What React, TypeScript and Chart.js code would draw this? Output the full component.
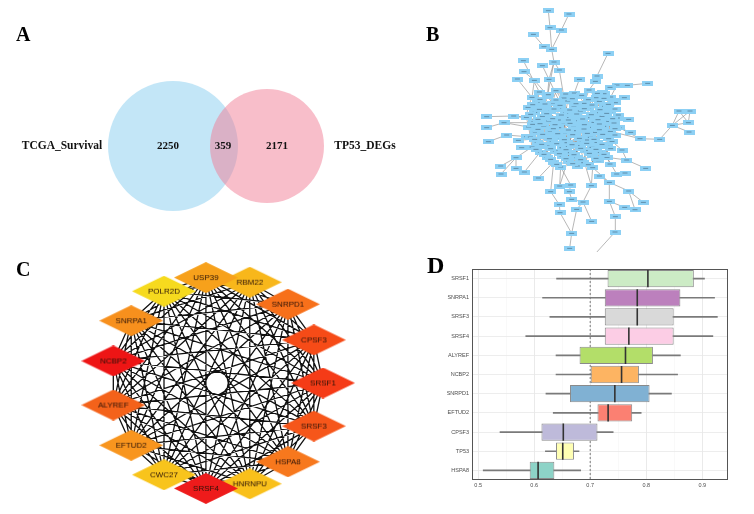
import React, { useEffect, useRef } from "react";
import { Chart, registerables } from "chart.js";
Chart.register(...registerables);

const FONT_SANS = '"Liberation Sans", Arial, sans-serif';
const FONT_SERIF = '"Liberation Serif", "Times New Roman", serif';

// ---------------- Panel A : Venn ----------------
const vennSetNames = ["TCGA_Survival", "TP53_DEGs"];
const vennCounts = [2250, 359, 2171]; // only left, overlap, only right

// ---------------- Panel B : PPI network (layout units) ----------------
const ppiPeripheral: [number, number][] = [
  [445, 32], [507, 42], [450, 83], [484, 90], [400, 103], [432, 140], [455, 148], [462, 186], [478, 210], [370, 182],
  [427, 197], [372, 215], [352, 237], [403, 241], [447, 238], [538, 238], [624, 160], [591, 228], [586, 244], [651, 255],
  [682, 256], [743, 250], [608, 277], [673, 293], [837, 333], [870, 333], [865, 368], [817, 376], [867, 396], [720, 416],
  [779, 418], [686, 358], [692, 397], [645, 405], [680, 480], [737, 505], [650, 522], [628, 547], [686, 573], [705, 629],
  [730, 607], [674, 622], [628, 604], [646, 650], [645, 696], [575, 664], [515, 700], [509, 745], [530, 628], [549, 606],
  [478, 614], [480, 638], [452, 575], [508, 575], [479, 558], [512, 555], [574, 557], [515, 598], [260, 350], [260, 383],
  [265, 425], [320, 405], [312, 368], [341, 348], [302, 498], [303, 522], [348, 473], [348, 505], [373, 516], [415, 534],
  [365, 443], [355, 421], [380, 410], [630, 262], [640, 302], [655, 345], [666, 450], [630, 492], [675, 519], [598, 528],
  [578, 770],
];
const ppiCore: [number, number][] = [
  [418, 276], [468, 272], [523, 279], [567, 270], [612, 281], [396, 292], [442, 289], [492, 294], [538, 288], [588, 293],
  [632, 291], [412, 306], [457, 309], [503, 303], [552, 310], [598, 304], [646, 308], [384, 322], [431, 319], [476, 324],
  [522, 318], [566, 323], [614, 319], [404, 337], [452, 334], [497, 339], [541, 333], [586, 338], [632, 335], [379, 352],
  [427, 349], [471, 354], [516, 348], [561, 353], [606, 349], [652, 354], [401, 366], [446, 363], [492, 368], [536, 362],
  [582, 367], [626, 364], [386, 381], [431, 378], [476, 383], [521, 377], [566, 382], [611, 379], [657, 383], [406, 396],
  [451, 393], [496, 398], [541, 392], [586, 397], [631, 394], [391, 411], [436, 408], [481, 413], [526, 407], [571, 412],
  [616, 409], [411, 426], [456, 423], [501, 428], [546, 422], [591, 427], [636, 424], [396, 441], [441, 438], [486, 443],
  [531, 437], [576, 442], [621, 439], [421, 456], [466, 453], [511, 458], [556, 452], [601, 457], [441, 471], [486, 468],
  [531, 473], [576, 467], [621, 472], [461, 486], [506, 483], [551, 488], [596, 482], [482, 501], [532, 498], [578, 503],
  [498, 353], [545, 375], [520, 392], [470, 405], [560, 420], [505, 440], [475, 360], [590, 385],
];
const ppiCoreFill: [number, number][] = [
  [445, 284], [497, 282], [545, 286], [592, 280],
  [420, 298], [468, 300], [517, 296], [565, 299], [612, 295],
  [398, 314], [435, 312], [480, 316], [528, 311], [576, 315], [625, 313],
  [418, 328], [462, 327], [509, 330], [553, 326], [600, 329], [645, 327],
  [392, 343], [440, 341], [484, 345], [530, 342], [574, 344], [620, 340],
  [414, 358], [458, 356], [505, 360], [548, 357], [594, 359], [638, 356],
  [398, 373], [420, 371], [465, 374], [510, 370], [553, 374], [598, 372], [642, 369],
  [414, 388], [460, 386], [505, 390], [552, 387], [598, 389], [645, 386],
  [428, 403], [473, 401], [518, 404], [562, 400], [608, 403],
  [404, 418], [448, 416], [493, 419], [538, 415], [582, 418], [626, 416],
  [425, 433], [470, 431], [516, 434], [560, 430], [606, 433],
  [408, 448], [452, 446], [498, 449], [542, 445], [588, 448], [632, 446],
  [432, 463], [478, 461], [522, 464], [568, 460], [612, 463],
  [452, 478], [498, 476], [542, 479], [588, 475],
  [470, 493], [518, 491], [565, 494],
];
const ppiEdges: string[] = [
  "p0-p2", "p2-p6", "p1-p3", "p3-p6", "p4-p5", "p5-p6", "p6-p7", "p7-p8", "p7-p14", "p7-c6", "p8-c7", "p9-c0",
  "p10-p14", "p11-p13", "p12-c5", "p13-c5", "p14-c6", "p15-c2", "p16-p17", "p17-p18", "p18-c3", "p19-c10", "p20-p19",
  "p21-p20", "p22-c4", "p22-c9", "p73-p22", "p23-c16", "p74-c16", "p75-c35", "p24-p27", "p25-p27", "p26-p27", "p28-p27",
  "p24-p26", "p25-p26", "p27-p30", "p30-p29", "p29-c48", "p29-c54", "p31-c35", "p32-c48", "p33-c54", "p34-c82",
  "p76-c66", "p76-p34", "p35-p34", "p36-c82", "p78-p36", "p37-c89", "p79-p37", "p77-c82", "p38-p37", "p39-p38",
  "p40-p38", "p41-p42", "p42-p37", "p43-p42", "p44-p43", "p80-p44", "p46-p47", "p46-p51", "p46-p48", "p45-p49",
  "p48-p49", "p50-p51", "p50-p52", "p52-p54", "p53-p55", "p53-p57", "p57-p49", "p49-p56", "p52-c83", "p54-c87",
  "p55-c87", "p56-c89", "p58-p63", "p63-c29", "p62-c42", "p59-p62", "p60-p61", "p61-c55", "p64-p66", "p65-p66",
  "p67-p66", "p66-c67", "p68-c73", "p69-c83", "p70-c67", "p71-c55", "p72-c49",
  "p13-c45", "p14-c58", "p63-c45", "p71-c58", "p62-c38", "p56-c45", "p54-c58", "p33-c45", "p31-c38",
  "c0-c6", "c0-c11", "c1-c7", "c1-c12", "c2-c8", "c2-c13", "c3-c9", "c3-c14", "c4-c10", "c4-c15", "c5-c11", "c5-c17",
  "c6-c12", "c6-c18", "c7-c13", "c7-c19", "c8-c14", "c8-c20", "c9-c15", "c9-c21", "c10-c16", "c10-c22", "c11-c23",
  "c12-c24", "c13-c25", "c14-c26", "c15-c27", "c16-c28", "c17-c29", "c18-c30", "c19-c31", "c20-c32", "c21-c33",
  "c22-c34", "c23-c36", "c24-c37", "c25-c38", "c26-c39", "c27-c40", "c28-c41", "c29-c42", "c30-c43", "c31-c44",
  "c32-c45", "c33-c46", "c34-c47", "c35-c48", "c36-c49", "c37-c50", "c38-c51", "c39-c52", "c40-c53", "c41-c54",
  "c42-c55", "c43-c56", "c44-c57", "c45-c58", "c46-c59", "c47-c60", "c49-c61", "c50-c62", "c51-c63", "c52-c64",
  "c53-c65", "c54-c66", "c55-c67", "c56-c68", "c57-c69", "c58-c70", "c59-c71", "c60-c72", "c61-c73", "c62-c74",
  "c63-c75", "c64-c76", "c65-c77", "c68-c78", "c69-c79", "c70-c80", "c71-c81", "c72-c82", "c74-c83", "c75-c84",
  "c76-c85", "c77-c86", "c79-c87", "c80-c88", "c81-c89",
  "c45-c2", "c45-c20", "c45-c30", "c45-c60", "c45-c70", "c45-c11", "c45-c80", "c45-c35", "c45-c67", "c45-c88",
  "c58-c5", "c58-c17", "c58-c29", "c58-c73", "c58-c86", "c58-c16", "c58-c4", "c58-c41",
  "c38-c0", "c38-c9", "c38-c54", "c38-c61", "c38-c75", "c38-c23", "c38-c48",
  "c52-c1", "c52-c42", "c52-c82", "c52-c66", "c52-c13", "c63-c36", "c63-c47", "c63-c78", "c63-c89",
  "c90-c97", "c91-c93", "c92-c95", "c94-c96", "c90-c44", "c91-c27", "c93-c61", "c95-c84",
  "f3-c45", "f8-c58", "f12-c38", "f17-c52", "f22-c45", "f27-c63", "f31-c58", "f36-c45", "f40-c38", "f45-c52",
  "f49-c45", "f53-c58", "f58-c63", "f62-c45", "f66-c38", "f70-c52", "f74-c45", "f78-c58", "f76-c63", "f79-c45",
  "f1-f5", "f10-f16", "f19-f25", "f28-f34", "f37-f44", "f47-f52", "f55-f60", "f63-f69", "f72-f77", "f75-f78",
];

// ---------------- Panel C : hub genes (circular layout order) ----------------
const hubGenes = ["SRSF1", "SRSF3", "HSPA8", "HNRNPU", "SRSF4", "CWC27", "EFTUD2", "ALYREF", "NCBP2", "SNRPA1", "POLR2D", "USP39", "RBM22", "SNRPD1", "CPSF3"];
const hubColors = ["#F53B17", "#F6561A", "#F7781D", "#F9C01B", "#EE1B1B", "#F8C41C", "#F8951E", "#F4621A", "#EE1515", "#F7901D", "#F6DA1E", "#F7A11B", "#F8B71B", "#F7701A", "#F64B17"];
const hubRank = [3, 5, 8, 14, 2, 13, 10, 6, 1, 9, 15, 11, 12, 7, 4];

// ---------------- Panel D : boxplot ----------------
const boxGenes = ["SRSF1", "SNRPA1", "SRSF3", "SRSF4", "ALYREF", "NCBP2", "SNRPD1", "EFTUD2", "CPSF3", "TP53", "HSPA8"];
const boxMin = [0.640, 0.615, 0.628, 0.585, 0.639, 0.639, 0.621, 0.634, 0.539, 0.620, 0.509];
const boxQ1 = [0.731, 0.726, 0.726, 0.726, 0.681, 0.701, 0.664, 0.713, 0.613, 0.639, 0.592];
const boxMed = [0.803, 0.784, 0.784, 0.769, 0.763, 0.756, 0.744, 0.732, 0.652, 0.651, 0.607];
const boxQ3 = [0.885, 0.861, 0.849, 0.849, 0.812, 0.787, 0.806, 0.775, 0.713, 0.671, 0.636];
const boxMax = [0.904, 0.922, 0.927, 0.919, 0.861, 0.856, 0.845, 0.791, 0.741, 0.680, 0.683];
const boxColors = ["#CCEBC5", "#BC80BD", "#D9D9D9", "#FCCDE5", "#B3DE69", "#FDB462", "#80B1D3", "#FB8072", "#BEBADA", "#FFFFB3", "#8DD3C7"];
const cutoffLine = 0.7;

function baseOptions(xmax: number, ymax: number): any {
  return {
    animation: false,
    responsive: false,
    events: [],
    layout: { padding: 0, autoPadding: false },
    plugins: { legend: { display: false }, tooltip: { enabled: false } },
    scales: {
      x: { type: "linear", min: 0, max: xmax, display: false },
      y: { type: "linear", min: 0, max: ymax, reverse: true, display: false },
    },
  };
}

function makeVenn(): any {
  return {
    type: "scatter",
    data: {
      datasets: [
        { data: [{ x: 267, y: 146 }], pointRadius: 57, backgroundColor: "rgba(241,126,150,0.5)", borderWidth: 0, clip: false },
        { data: [{ x: 173, y: 146 }], pointRadius: 65, backgroundColor: "rgba(135,205,240,0.5)", borderWidth: 0, clip: false },
      ],
    },
    options: baseOptions(400, 250),
    plugins: [
      {
        id: "vennText",
        afterDatasetsDraw(chart: any) {
          const { ctx, scales } = chart;
          const X = (v: number) => scales.x.getPixelForValue(v);
          const Y = (v: number) => scales.y.getPixelForValue(v);
          ctx.save();
          ctx.fillStyle = "#111";
          ctx.textAlign = "center";
          ctx.textBaseline = "middle";
          ctx.font = `bold 11.5px ${FONT_SERIF}`;
          ctx.fillText(vennSetNames[0], X(62), Y(146));
          ctx.fillText(vennSetNames[1], X(365), Y(146));
          ctx.font = `bold 11px ${FONT_SERIF}`;
          ctx.fillText(String(vennCounts[0]), X(168), Y(146));
          ctx.fillText(String(vennCounts[1]), X(223), Y(146));
          ctx.fillText(String(vennCounts[2]), X(277), Y(146));
          ctx.restore();
        },
      },
    ],
  };
}

function nodeImage(): HTMLCanvasElement {
  const c = document.createElement("canvas");
  c.width = 11;
  c.height = 5;
  const g = c.getContext("2d")!;
  g.fillStyle = "#8dd0f4";
  g.fillRect(0, 0, 11, 5);
  g.fillStyle = "rgba(40,60,80,0.45)";
  g.fillRect(3, 2, 5, 1);
  return c;
}

function makePPI(): any {
  const lookup = (id: string) => {
    const n = parseInt(id.slice(1), 10);
    const src = id[0] === "p" ? ppiPeripheral : id[0] === "c" ? ppiCore : ppiCoreFill;
    const p = src[n] || src[src.length - 1];
    return { x: p[0], y: p[1] };
  };
  const edgePts: any[] = [];
  ppiEdges.forEach((e) => {
    const [a, b] = e.split("-");
    edgePts.push(lookup(a), lookup(b), { x: null, y: null });
  });
  const nodes = ppiPeripheral.concat(ppiCore, ppiCoreFill).map((p) => ({ x: p[0], y: p[1] }));
  const img = nodeImage();
  return {
    type: "scatter",
    data: {
      datasets: [
        { type: "scatter", data: nodes, pointStyle: img, pointRadius: 2, order: 0 },
        {
          type: "line",
          data: edgePts,
          borderColor: "rgba(125,125,125,0.8)",
          borderWidth: 0.7,
          pointRadius: 0,
          spanGaps: false,
          fill: false,
          order: 1,
        },
      ],
    },
    options: baseOptions(1062, 756),
  };
}

function diamondImage(color: string, label: string): HTMLCanvasElement {
  const c = document.createElement("canvas");
  c.width = 64;
  c.height = 31;
  const g = c.getContext("2d")!;
  g.beginPath();
  g.moveTo(0, 15.5);
  g.lineTo(32, 0);
  g.lineTo(64, 15.5);
  g.lineTo(32, 31);
  g.closePath();
  g.fillStyle = color;
  g.fill();
  g.font = `8px ${FONT_SANS}`;
  g.fillStyle = "#2a1208";
  g.textAlign = "center";
  g.textBaseline = "middle";
  g.fillText(label, 32, 16);
  return c;
}

function makeHub(): any {
  const cx = 197, cy = 133, R = 106;
  const n = hubGenes.length;
  const pos = hubGenes.map((_, i) => {
    const a = (i * 2 * Math.PI) / n;
    return { x: cx + R * Math.cos(a), y: cy + R * Math.sin(a) };
  });
  const edgePts: any[] = [];
  for (let i = 0; i < n; i++)
    for (let j = i + 1; j < n; j++) edgePts.push(pos[i], pos[j], { x: null, y: null });
  const drawOrder = hubGenes.map((_, i) => i).sort((a, b) => hubRank[b] - hubRank[a]);
  const imgs = drawOrder.map((i) => diamondImage(hubColors[i], hubGenes[i]));
  return {
    type: "scatter",
    data: {
      datasets: [
        { type: "scatter", data: drawOrder.map((i) => pos[i]), pointStyle: imgs, pointRadius: 2, order: 0, clip: false },
        {
          type: "line",
          data: edgePts,
          borderColor: "#111",
          borderWidth: 1.3,
          pointRadius: 0,
          spanGaps: false,
          fill: false,
          order: 1,
        },
      ],
    },
    options: baseOptions(380, 264),
  };
}

function makeBox(): any {
  const isMajor = (v: number) => Math.abs(v * 10 - Math.round(v * 10)) < 1e-6;
  const tickFont = { size: 5.5, family: FONT_SANS };
  return {
    type: "bar",
    data: {
      labels: boxGenes,
      datasets: [
        {
          type: "scatter",
          data: boxGenes.map((g, i) => ({ x: boxMed[i], y: g })),
          pointStyle: "line",
          rotation: 90,
          pointRadius: 8.6,
          borderColor: "#333",
          borderWidth: 1.6,
          order: 0,
        },
        {
          type: "bar",
          data: boxGenes.map((_, i) => [boxQ1[i], boxQ3[i]]),
          backgroundColor: boxColors,
          borderColor: "#8a8a8a",
          borderWidth: 1,
          borderSkipped: false,
          grouped: false,
          barPercentage: 0.9,
          categoryPercentage: 1,
          order: 1,
        },
        {
          type: "bar",
          data: boxGenes.map((_, i) => [boxMin[i], boxMax[i]]),
          backgroundColor: "#7a7a7a",
          borderWidth: 0,
          barThickness: 1,
          grouped: false,
          order: 2,
        },
      ],
    },
    options: {
      animation: false,
      responsive: false,
      events: [],
      indexAxis: "y",
      layout: { padding: { top: 19, right: 26, left: 0, bottom: 0 }, autoPadding: false },
      plugins: { legend: { display: false }, tooltip: { enabled: false } },
      scales: {
        x: {
          type: "linear",
          min: 0.489,
          max: 0.946,
          ticks: {
            stepSize: 0.05,
            includeBounds: false,
            autoSkip: false,
            maxRotation: 0,
            padding: 2,
            color: "#4d4d4d",
            font: tickFont,
            callback: (v: any) => (isMajor(Number(v)) ? Number(v).toFixed(1) : ""),
          },
          grid: {
            drawTicks: false,
            lineWidth: (c: any) => (c.tick && isMajor(c.tick.value) ? 0.8 : 0.5),
            color: (c: any) => (c.tick && isMajor(c.tick.value) ? "#e4e4e4" : "#f2f2f2"),
          },
          border: { display: false },
          afterFit: (s: any) => {
            s.height = 34;
          },
        },
        y: {
          type: "category",
          ticks: { autoSkip: false, padding: 3, color: "#4d4d4d", font: tickFont },
          grid: { offset: false, drawTicks: false, color: "#e8e8e8", lineWidth: 0.8 },
          border: { display: false },
          afterFit: (s: any) => {
            s.width = 52;
          },
        },
      },
    },
    plugins: [
      {
        id: "boxDecor",
        beforeDatasetsDraw(chart: any) {
          const { ctx, chartArea, scales } = chart;
          const x = scales.x.getPixelForValue(cutoffLine);
          ctx.save();
          ctx.strokeStyle = "#7a7a7a";
          ctx.lineWidth = 1;
          ctx.setLineDash([2, 2]);
          ctx.beginPath();
          ctx.moveTo(x, chartArea.top);
          ctx.lineTo(x, chartArea.bottom);
          ctx.stroke();
          ctx.restore();
        },
        afterDraw(chart: any) {
          const { ctx, chartArea } = chart;
          ctx.save();
          ctx.strokeStyle = "#555";
          ctx.lineWidth = 1;
          ctx.strokeRect(chartArea.left + 0.5, chartArea.top + 0.5, chartArea.right - chartArea.left - 1, chartArea.bottom - chartArea.top - 1);
          ctx.restore();
        },
      },
    ],
  };
}

function ChartCanvas(props: { left: number; top: number; width: number; height: number; make: () => any }) {
  const ref = useRef<HTMLCanvasElement>(null);
  useEffect(() => {
    const chart = new Chart(ref.current as HTMLCanvasElement, props.make());
    return () => chart.destroy();
  }, []);
  const { left, top, width, height } = props;
  return (
    <canvas
      ref={ref}
      width={width}
      height={height}
      style={{ position: "absolute", left, top, width, height }}
    />
  );
}

const letterStyle = (left: number, top: number, size: number): React.CSSProperties => ({
  position: "absolute",
  left,
  top,
  fontFamily: FONT_SERIF,
  fontWeight: "bold",
  fontSize: size,
  lineHeight: 1,
  color: "#000",
});

export default function App() {
  return (
    <div style={{ position: "fixed", left: 0, top: 0, width: 754, height: 514, background: "#fff", overflow: "hidden" }}>
      <ChartCanvas left={0} top={0} width={400} height={250} make={makeVenn} />
      <ChartCanvas left={400} top={0} width={354} height={252} make={makePPI} />
      <ChartCanvas left={20} top={250} width={380} height={264} make={makeHub} />
      <ChartCanvas left={420} top={250} width={334} height={264} make={makeBox} />
      <div style={letterStyle(16, 23.5, 20)}>A</div>
      <div style={letterStyle(426, 23.5, 20)}>B</div>
      <div style={letterStyle(16, 258.5, 20)}>C</div>
      <div style={letterStyle(427, 252.8, 24)}>D</div>
    </div>
  );
}
